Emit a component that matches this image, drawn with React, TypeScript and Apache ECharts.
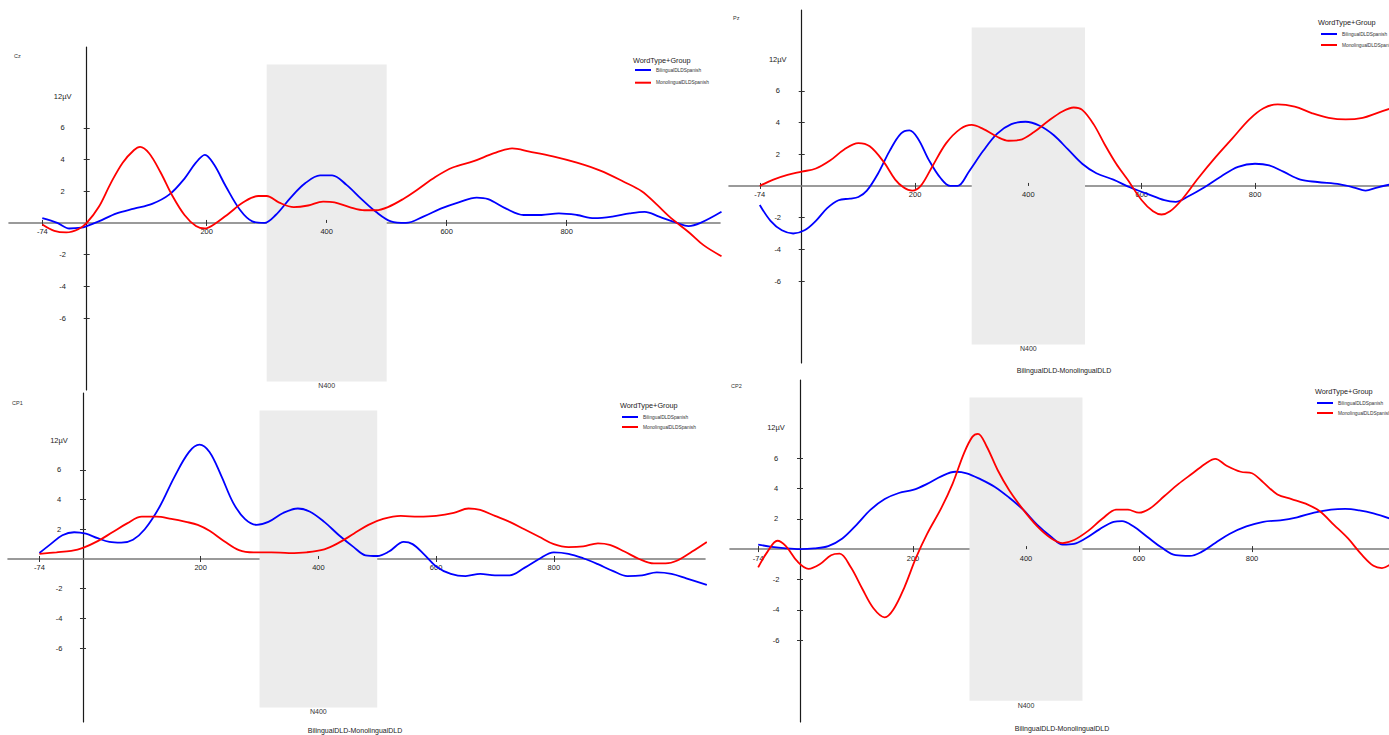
import { useEffect, useRef } from "react";
import * as echarts from "echarts";

// ---- shared axis / label content ----
const xTicks = [-74, 200, 400, 600, 800];
const yTicks = [-6, -4, -2, 2, 4, 6];
const unitLabelValue = 8;
const unitLabel = "12µV";
const legendTitle = "WordType+Group";
const seriesNames = ["BilingualDLDSpanish", "MonolingualDLDSpanish"];
const contrastLabel = "BilingualDLD-MonolingualDLD";
const windowLabel = "N400";
const n400Window = [300, 500];
const n400Amplitude = [-10, 10];

// ---- ERP waveforms: [time (ms), amplitude (µV)] ----
const czBilingual: [number, number][] = [
  [-74, 0.3], [-49, 0.0], [-29, -0.35], [-9, -0.3], [0, -0.2], [20, 0.1], [50, 0.6], [79, 0.9],
  [109, 1.2], [138, 1.8], [163, 2.8], [182, 3.8], [197, 4.3], [212, 3.7], [232, 2.3], [256, 0.8],
  [276, 0.1], [296, 0.0], [315, 0.5], [340, 1.6], [364, 2.5], [389, 3.0], [409, 3.0], [433, 2.4],
  [458, 1.5], [482, 0.7], [507, 0.1], [532, 0.0], [561, 0.4], [590, 0.9], [620, 1.3], [650, 1.6],
  [669, 1.5], [699, 0.9], [728, 0.5], [758, 0.5], [787, 0.6], [817, 0.5], [846, 0.3], [876, 0.4],
  [905, 0.6], [930, 0.7], [954, 0.4], [984, 0.0], [1003, -0.2], [1023, 0.0], [1058, 0.7],
];
const czMonolingual: [number, number][] = [
  [-74, -0.1], [-54, -0.5], [-34, -0.6], [-14, -0.4], [0, 0.0], [20, 1.0], [40, 2.5], [60, 3.8],
  [79, 4.6], [89, 4.8], [104, 4.4], [123, 3.2], [143, 1.7], [163, 0.5], [182, -0.2], [197, -0.35],
  [212, -0.1], [237, 0.6], [261, 1.3], [286, 1.7], [300, 1.7], [320, 1.3], [345, 1.0], [369, 1.1],
  [394, 1.35], [413, 1.3], [438, 1.0], [463, 0.8], [482, 0.8], [502, 1.0], [527, 1.5], [551, 2.1],
  [581, 2.9], [610, 3.5], [645, 3.9], [679, 4.4], [709, 4.7], [738, 4.5], [777, 4.2], [817, 3.8],
  [856, 3.3], [895, 2.6], [925, 2.0], [949, 1.2], [974, 0.3], [1004, -0.6], [1028, -1.4], [1058, -2.1],
];
const pzBilingual: [number, number][] = [
  [-74, -1.2], [-55, -2.2], [-35, -2.8], [-15, -3.0], [5, -2.8], [25, -2.2], [45, -1.4], [65, -0.9],
  [85, -0.8], [100, -0.7], [115, -0.3], [135, 0.8], [155, 2.2], [175, 3.3], [190, 3.5], [205, 3.0],
  [225, 1.6], [245, 0.5], [262, 0.0], [275, 0.0], [295, 0.9], [320, 2.2], [345, 3.3], [370, 3.9],
  [395, 4.05], [420, 3.8], [445, 3.2], [470, 2.3], [495, 1.4], [520, 0.8], [550, 0.4], [580, -0.1],
  [610, -0.5], [640, -0.9], [660, -1.0], [680, -0.7], [710, -0.1], [740, 0.6], [770, 1.2], [800, 1.4],
  [825, 1.3], [850, 0.9], [880, 0.4], [910, 0.25], [950, 0.1], [975, -0.1], [995, -0.3], [1015, -0.1],
  [1040, 0.1],
];
const pzMonolingual: [number, number][] = [
  [-74, 0.0], [-50, 0.4], [-25, 0.7], [0, 0.9], [25, 1.1], [50, 1.6], [75, 2.3], [100, 2.7],
  [120, 2.5], [145, 1.5], [165, 0.4], [180, -0.1], [195, -0.3], [210, 0.0], [230, 1.2], [255, 2.7],
  [280, 3.6], [300, 3.85], [320, 3.6], [345, 3.1], [365, 2.85], [385, 2.9], [410, 3.4], [435, 4.1],
  [460, 4.7], [480, 4.95], [495, 4.8], [515, 3.9], [535, 2.6], [555, 1.4], [575, 0.4], [600, -0.9],
  [620, -1.6], [635, -1.8], [650, -1.6], [670, -0.9], [700, 0.5], [730, 1.8], [760, 3.0], [790, 4.2],
  [815, 4.9], [840, 5.15], [870, 5.0], [900, 4.6], [930, 4.3], [960, 4.2], [990, 4.3], [1015, 4.6],
  [1040, 4.9],
];
const cp1Bilingual: [number, number][] = [
  [-74, 0.4], [-55, 1.0], [-35, 1.6], [-15, 1.8], [5, 1.7], [25, 1.4], [45, 1.15], [65, 1.1],
  [85, 1.3], [105, 2.0], [130, 3.5], [155, 5.5], [180, 7.2], [198, 7.7], [215, 7.2], [235, 5.6],
  [255, 3.8], [275, 2.7], [295, 2.3], [315, 2.5], [340, 3.1], [365, 3.4], [385, 3.2], [410, 2.5],
  [435, 1.6], [460, 0.8], [480, 0.25], [500, 0.2], [520, 0.5], [545, 1.15], [560, 1.0], [580, 0.3],
  [600, -0.5], [625, -1.0], [650, -1.15], [675, -1.0], [700, -1.1], [725, -1.1], [750, -0.6],
  [775, 0.0], [800, 0.45], [825, 0.35], [850, 0.05], [875, -0.35], [900, -0.8], [925, -1.15],
  [950, -1.1], [975, -0.9], [1000, -1.0], [1025, -1.3], [1060, -1.75],
];
const cp1Monolingual: [number, number][] = [
  [-74, 0.35], [-45, 0.45], [-20, 0.55], [0, 0.75], [25, 1.2], [50, 1.8], [75, 2.4], [100, 2.85],
  [125, 2.85], [150, 2.7], [175, 2.5], [195, 2.3], [215, 1.9], [240, 1.2], [265, 0.6], [290, 0.45],
  [320, 0.45], [350, 0.4], [380, 0.45], [410, 0.65], [435, 1.1], [460, 1.7], [485, 2.3], [510, 2.7],
  [540, 2.9], [570, 2.85], [600, 2.9], [630, 3.1], [655, 3.4], [675, 3.3], [700, 2.9], [725, 2.5],
  [750, 2.0], [775, 1.5], [800, 1.0], [825, 0.8], [850, 0.85], [875, 1.05], [895, 0.95], [920, 0.5],
  [945, 0.0], [970, -0.3], [990, -0.3], [1010, -0.1], [1035, 0.5], [1060, 1.15],
];
const cp2Bilingual: [number, number][] = [
  [-74, 0.3], [-50, 0.15], [-25, 0.05], [0, 0.0], [25, 0.05], [50, 0.2], [75, 0.7], [100, 1.6],
  [125, 2.6], [150, 3.3], [175, 3.7], [200, 3.9], [225, 4.3], [250, 4.8], [275, 5.1], [295, 5.0],
  [320, 4.6], [345, 4.1], [370, 3.4], [395, 2.6], [420, 1.6], [445, 0.8], [465, 0.3], [485, 0.35],
  [505, 0.7], [530, 1.3], [555, 1.8], [570, 1.85], [590, 1.5], [615, 0.8], [640, 0.1], [665, -0.4],
  [690, -0.45], [710, -0.2], [735, 0.4], [760, 1.0], [790, 1.5], [820, 1.8], [850, 1.9], [880, 2.1],
  [910, 2.4], [940, 2.6], [965, 2.65], [990, 2.55], [1015, 2.35], [1045, 2.0],
];
const cp2Monolingual: [number, number][] = [
  [-74, -1.2], [-58, -0.2], [-40, 0.55], [-25, 0.2], [-5, -0.8], [15, -1.3], [35, -1.0], [55, -0.4],
  [70, -0.3], [90, -1.2], [110, -2.6], [130, -3.9], [150, -4.5], [165, -4.0], [185, -2.5], [205, -0.6],
  [225, 1.0], [250, 2.7], [270, 4.3], [290, 6.3], [305, 7.4], [315, 7.6], [330, 6.8], [350, 5.2],
  [370, 3.9], [395, 2.6], [420, 1.5], [445, 0.7], [465, 0.4], [485, 0.6], [510, 1.2], [535, 2.0],
  [560, 2.6], [580, 2.6], [600, 2.4], [620, 2.7], [645, 3.5], [670, 4.3], [695, 5.0], [720, 5.7],
  [735, 5.95], [755, 5.5], [780, 5.1], [800, 5.0], [820, 4.4], [845, 3.6], [870, 3.3], [895, 3.0],
  [920, 2.5], [945, 1.6], [970, 0.7], [995, -0.4], [1015, -1.1], [1030, -1.25], [1045, -1.0],
];

// ---- panel layout (pixels) ----
type Panel = {
  tag: string;
  bilingual: [number, number][];
  monolingual: [number, number][];
  rect: { left: number; top: number; width: number; height: number };
  xRange: [number, number];
  yRange: [number, number];
  tagPos: [number, number];
  legend: { titleX: number; titleY: number; left: number; top: number; gap: number };
  contrastPos: [number, number] | null;
};

const panels: Panel[] = [
  {
    tag: "Cz", bilingual: czBilingual, monolingual: czMonolingual,
    rect: { left: 9, top: 47, width: 711, height: 343 },
    xRange: [-129.5, 1055.5], yRange: [-10.54, 11.1], tagPos: [14, 56],
    legend: { titleX: 633, titleY: 60, left: 635, top: 67, gap: 6.7 }, contrastPos: null,
  },
  {
    tag: "Pz", bilingual: pzBilingual, monolingual: pzMonolingual,
    rect: { left: 729, top: 10, width: 660, height: 353 },
    xRange: [-128.3, 1036.4], yRange: [-11.17, 11.1], tagPos: [733, 18],
    legend: { titleX: 1318, titleY: 22.7, left: 1321, top: 31, gap: 5 }, contrastPos: [1064, 370],
  },
  {
    tag: "CP1", bilingual: cp1Bilingual, monolingual: cp1Monolingual,
    rect: { left: 8, top: 393, width: 697, height: 329 },
    xRange: [-127.4, 1056.9], yRange: [-10.98, 11.18], tagPos: [12, 403],
    legend: { titleX: 620, titleY: 405, left: 622, top: 414, gap: 4 }, contrastPos: [355, 730],
  },
  {
    tag: "CP2", bilingual: cp2Bilingual, monolingual: cp2Monolingual,
    rect: { left: 730, top: 380, width: 659, height: 342 },
    xRange: [-123.9, 1042.5], yRange: [-11.4, 11.15], tagPos: [731, 386],
    legend: { titleX: 1315, titleY: 391, left: 1317, top: 400, gap: 4 }, contrastPos: [1062, 728],
  },
];

const FONT = "'Liberation Sans', Arial, sans-serif";
const BLUE = "#0000ff";
const RED = "#ff0000";

function buildOption() {
  const grid: any[] = [];
  const xAxis: any[] = [];
  const yAxis: any[] = [];
  const series: any[] = [];
  const legend: any[] = [];
  const graphic: any[] = [];

  panels.forEach((p, i) => {
    const g = i * 2;
    const { left, top, width, height } = p.rect;
    // pixel position of the zero lines, so both axes cross at (0 ms, 0 µV)
    const zeroY = top + (height * p.yRange[1]) / (p.yRange[1] - p.yRange[0]);
    const zeroX = left + (width * -p.xRange[0]) / (p.xRange[1] - p.xRange[0]);
    const xOffset = zeroY - (top + height);
    const yOffset = left - zeroX;

    // main grid (axis lines, under the N400 shading) + an overlay grid
    // (inner tick halves and the time labels, above the shading)
    grid.push({ ...p.rect, containLabel: false, outerBoundsMode: "none", show: false });
    grid.push({ ...p.rect, containLabel: false, outerBoundsMode: "none", show: false });

    const xBase = {
      type: "value", min: p.xRange[0], max: p.xRange[1], position: "bottom", offset: xOffset,
      splitLine: { show: false },
    };
    const yBase = {
      type: "value", min: p.yRange[0], max: p.yRange[1], position: "left", offset: yOffset,
      splitLine: { show: false },
    };

    xAxis.push({
      ...xBase, gridIndex: g, z: 0,
      axisLine: { show: true, onZero: false, lineStyle: { color: "#7a7a7a", width: 1.6 } },
      axisTick: { show: true, customValues: xTicks, length: 3, lineStyle: { color: "#333", width: 1 } },
      axisLabel: { show: false },
    });
    xAxis.push({
      ...xBase, gridIndex: g + 1, z: 2,
      axisLine: { show: false, onZero: false },
      axisTick: { show: true, inside: true, customValues: xTicks, length: 3, lineStyle: { color: "#333", width: 1 } },
      axisLabel: { show: true, customValues: xTicks, margin: 5, fontSize: 7.5, color: "#222", fontFamily: FONT },
    });
    yAxis.push({
      ...yBase, gridIndex: g, z: 0,
      axisLine: { show: true, onZero: false, lineStyle: { color: "#1a1a1a", width: 1.2 } },
      axisTick: { show: true, customValues: yTicks, length: 3, lineStyle: { color: "#333", width: 1 } },
      axisLabel: {
        show: true, customValues: [...yTicks, unitLabelValue], align: "center", margin: 24,
        fontSize: 7.5, color: "#222", fontFamily: FONT,
        formatter: (v: number) => (v === unitLabelValue ? unitLabel : String(v)),
      },
    });
    yAxis.push({
      ...yBase, gridIndex: g + 1, z: 2,
      axisLine: { show: false, onZero: false },
      axisTick: { show: true, inside: true, customValues: yTicks, length: 3, lineStyle: { color: "#333", width: 1 } },
      axisLabel: { show: false },
    });

    series.push({
      type: "line", name: seriesNames[0], xAxisIndex: g, yAxisIndex: g,
      data: p.bilingual, smooth: 0.35, symbol: "none", showSymbol: false,
      lineStyle: { color: BLUE, width: 1.8 }, itemStyle: { color: BLUE }, z: 3,
      markArea: {
        silent: true, z: 1,
        itemStyle: { color: "#ececec" },
        label: { show: true, position: "bottom", distance: 1, formatter: windowLabel, fontSize: 7, color: "#333", fontFamily: FONT },
        data: [[
          { xAxis: n400Window[0], yAxis: n400Amplitude[1] },
          { xAxis: n400Window[1], yAxis: n400Amplitude[0] },
        ]],
      },
    });
    series.push({
      type: "line", name: seriesNames[1], xAxisIndex: g, yAxisIndex: g,
      data: p.monolingual, smooth: 0.35, symbol: "none", showSymbol: false,
      lineStyle: { color: RED, width: 1.8 }, itemStyle: { color: RED }, z: 3,
    });

    legend.push({
      orient: "vertical", left: p.legend.left, top: p.legend.top, padding: 0,
      itemWidth: 16, itemHeight: 2, itemGap: p.legend.gap, icon: "rect", selectedMode: false,
      textStyle: { fontSize: 4.8, lineHeight: 6, color: "#333", fontFamily: FONT },
      data: seriesNames,
    });

    graphic.push({
      type: "text", x: p.legend.titleX, y: p.legend.titleY, silent: true,
      style: { text: legendTitle, fontSize: 7.3, fontFamily: FONT, fill: "#222", align: "left", verticalAlign: "middle", textAlign: "left", textVerticalAlign: "middle" },
    });
    graphic.push({
      type: "text", x: p.tagPos[0], y: p.tagPos[1], silent: true,
      style: { text: p.tag, fontSize: 5.5, fontFamily: FONT, fill: "#333", align: "left", verticalAlign: "middle", textAlign: "left", textVerticalAlign: "middle" },
    });
    if (p.contrastPos) {
      graphic.push({
        type: "text", x: p.contrastPos[0], y: p.contrastPos[1], silent: true,
        style: { text: contrastLabel, fontSize: 7, fontFamily: FONT, fill: "#222", align: "center", verticalAlign: "middle", textAlign: "center", textVerticalAlign: "middle" },
      });
    }
  });

  return {
    animation: false,
    backgroundColor: "#ffffff",
    textStyle: { fontFamily: FONT },
    grid, xAxis, yAxis, series, legend, graphic,
  };
}

export default function App() {
  const ref = useRef<HTMLDivElement>(null);
  useEffect(() => {
    if (!ref.current) return;
    const chart = echarts.init(ref.current, undefined, { renderer: "svg" });
    chart.setOption(buildOption() as any);
    return () => chart.dispose();
  }, []);
  return (
    <div
      ref={ref}
      style={{ position: "fixed", left: 0, top: 0, width: 1389, height: 735, background: "#fff" }}
    />
  );
}
